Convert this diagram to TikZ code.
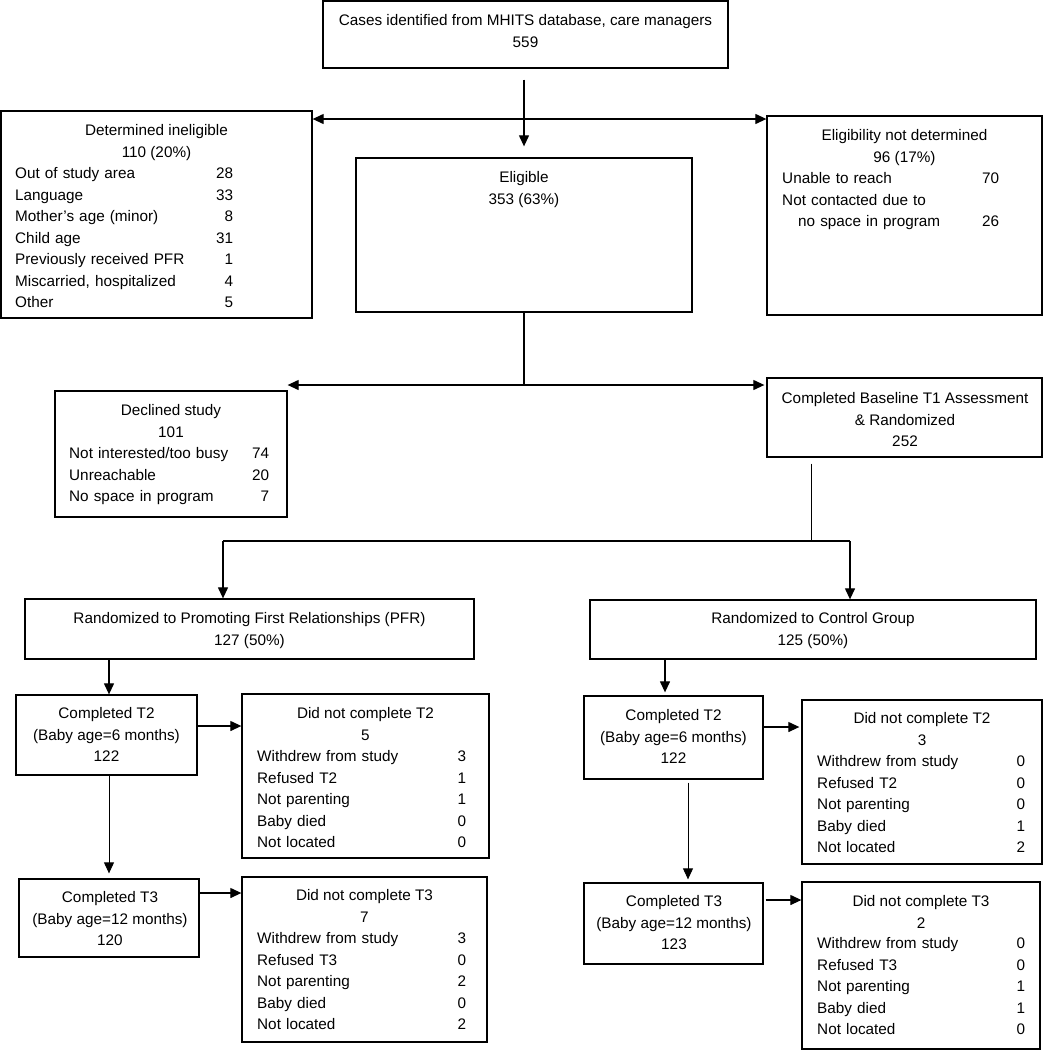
\documentclass[tikz,border=0pt]{standalone}
\usepackage{fontspec}
\setmainfont{Liberation Sans}
\usetikzlibrary{arrows.meta}
\newcommand\mystrut{\rule{0pt}{12pt}}
\begin{document}
\begin{tikzpicture}[x=1pt,y=-1pt,
  box/.style={draw, line width=1.3pt, inner sep=0pt},
  hdr/.style={inner sep=0pt, anchor=north, align=center, font=\fontsize{15.3pt}{21.5pt}\selectfont},
  tbl/.style={inner sep=0pt, anchor=north west, align=left, text width=#1, font=\fontsize{15.3pt}{21.5pt}\selectfont},
  conn/.style={line width=1.2pt},
  thin/.style={line width=0.9pt},
  arr/.style={line width=1.2pt, -{Triangle[length=11pt,width=10pt]}},
  darr/.style={line width=1.2pt, {Triangle[length=11pt,width=10pt]}-{Triangle[length=11pt,width=10pt]}}]
\useasboundingbox (0,0) rectangle (1046,1050);

% --- boxes ---
\node[box, minimum width=405pt, minimum height=67pt] (top) at (525.5,34.5) {};
\node[hdr] (topH) at (525.5,13.5) {\mystrut Cases identified from MHITS database, care managers\\559};

\node[box, minimum width=311pt, minimum height=207pt] (inel) at (156.5,214.5) {};
\node[hdr] (inelH) at (156.5,123.5) {\mystrut Determined ineligible\\110 (20\%)};
\node[tbl=218pt] (inelT) at (15,166.5) {\mystrut Out of study area\hfill 28\\
Language\hfill 33\\
Mother’s age (minor)\hfill 8\\
Child age\hfill 31\\
Previously received PFR\hfill 1\\
Miscarried, hospitalized\hfill 4\\
Other\hfill 5};

\node[box, minimum width=336pt, minimum height=154pt] (elig) at (524,235) {};
\node[hdr] (eligH) at (524,170.5) {\mystrut Eligible\\353 (63\%)};

\node[box, minimum width=275pt, minimum height=199pt] (nd) at (904.5,215.5) {};
\node[hdr] (ndH) at (904.5,128.5) {\mystrut Eligibility not determined\\96 (17\%)};
\node[tbl=217pt] (ndT) at (782,171.5) {\mystrut Unable to reach\hfill 70\\
Not contacted due to\\
\hspace*{16pt}no space in program\hfill 26};

\node[box, minimum width=232pt, minimum height=126pt] (decl) at (171,454) {};
\node[hdr] (declH) at (171,403.5) {\mystrut Declined study\\101};
\node[tbl=200pt] (declT) at (69,446.5) {\mystrut Not interested/too busy\hfill 74\\
Unreachable\hfill 20\\
No space in program\hfill 7};

\node[box, minimum width=275pt, minimum height=79pt] (base) at (904.5,417.5) {};
\node[hdr] (baseH) at (905,391.5) {\mystrut Completed Baseline T1 Assessment\\\& Randomized\\252};

\node[box, minimum width=449pt, minimum height=60pt] (pfr) at (249.5,629) {};
\node[hdr] (pfrH) at (249.5,611.5) {\mystrut Randomized to Promoting First Relationships (PFR)\\127 (50\%)};

\node[box, minimum width=446pt, minimum height=59pt] (ctrl) at (813,629.5) {};
\node[hdr] (ctrlH) at (813,611.5) {\mystrut Randomized to Control Group\\125 (50\%)};

% left arm
\node[box, minimum width=181pt, minimum height=80pt] (ct2l) at (106.5,735) {};
\node[hdr] (ct2lH) at (106.5,706.5) {\mystrut Completed T2\\(Baby age=6 months)\\122};
\node[box, minimum width=247pt, minimum height=164pt] (dn2l) at (365.5,776) {};
\node[hdr] (dn2lH) at (365.5,706.5) {\mystrut Did not complete T2\\5};
\node[tbl=209pt] (dn2lT) at (257,749.5) {\mystrut Withdrew from study\hfill 3\\
Refused T2\hfill 1\\
Not parenting\hfill 1\\
Baby died\hfill 0\\
Not located\hfill 0};

\node[box, minimum width=180pt, minimum height=78pt] (ct3l) at (109,918) {};
\node[hdr] (ct3lH) at (110,890.5) {\mystrut Completed T3\\(Baby age=12 months)\\120};
\node[box, minimum width=245pt, minimum height=165pt] (dn3l) at (364.5,959.5) {};
\node[hdr] (dn3lH) at (364.5,888.5) {\mystrut Did not complete T3\\7};
\node[tbl=209pt] (dn3lT) at (257,931.5) {\mystrut Withdrew from study\hfill 3\\
Refused T3\hfill 0\\
Not parenting\hfill 2\\
Baby died\hfill 0\\
Not located\hfill 2};

% right arm
\node[box, minimum width=179pt, minimum height=83pt] (ct2r) at (673.5,737.5) {};
\node[hdr] (ct2rH) at (673.5,708.5) {\mystrut Completed T2\\(Baby age=6 months)\\122};
\node[box, minimum width=240pt, minimum height=164pt] (dn2r) at (922,782) {};
\node[hdr] (dn2rH) at (922,711.5) {\mystrut Did not complete T2\\3};
\node[tbl=208pt] (dn2rT) at (817,754.5) {\mystrut Withdrew from study\hfill 0\\
Refused T2\hfill 0\\
Not parenting\hfill 0\\
Baby died\hfill 1\\
Not located\hfill 2};

\node[box, minimum width=179pt, minimum height=81pt] (ct3r) at (673.5,923.5) {};
\node[hdr] (ct3rH) at (674,894.5) {\mystrut Completed T3\\(Baby age=12 months)\\123};
\node[box, minimum width=238pt, minimum height=167pt] (dn3r) at (921,965.5) {};
\node[hdr] (dn3rH) at (921,894.5) {\mystrut Did not complete T3\\2};
\node[tbl=208pt] (dn3rT) at (817,936.5) {\mystrut Withdrew from study\hfill 0\\
Refused T3\hfill 0\\
Not parenting\hfill 1\\
Baby died\hfill 1\\
Not located\hfill 0};

% --- connectors ---
\draw[arr, shorten <=11pt, shorten >=11pt] (top.south -| elig.north) -- (elig.north);
\coordinate (h1) at (524,119);
\draw[darr] (h1 -| inel.east) -- (h1 -| nd.west);

\coordinate (h2) at (524,385);
\draw[conn] (elig.south) -- (h2);
\draw[darr] (h2 -| decl.east) -- ([xshift=-2pt]h2 -| base.west);

\coordinate (s1) at (811,541);
\coordinate (s2) at (223,541);
\coordinate (s3) at (850,541);
\draw[thin, shorten <=6pt] (s1 |- base.south) -- (s1);
\draw[conn] (s2) -- (s3);
\draw[arr] (s2) -- (s2 |- pfr.north);
\draw[arr] (s3) -- (s3 |- ctrl.north);

\draw[arr] ([xshift=2.5pt]ct2l.north |- pfr.south) -- ([xshift=2.5pt]ct2l.north);
\draw[arr] ([yshift=9pt]ct2l.east) -- ([yshift=9pt]ct2l.east -| dn2l.west);
\draw[thin, -{Triangle[length=11pt,width=10pt]}, shorten >=5pt] (ct3l.north |- ct2l.south) -- (ct3l.north);
\draw[arr] ([yshift=25pt]ct3l.east) -- ([yshift=25pt]ct3l.east -| dn3l.west);

\draw[arr, shorten >=3pt] ([xshift=-8.5pt]ct2r.north |- ctrl.south) -- ([xshift=-8.5pt]ct2r.north);
\draw[arr, shorten >=2pt] ([yshift=10.5pt]ct2r.east) -- ([yshift=10.5pt]ct2r.east -| dn2r.west);
\draw[thin, -{Triangle[length=11pt,width=10pt]}, shorten <=3pt, shorten >=3pt] ([xshift=14.5pt]ct2r.south) -- ([xshift=14.5pt]ct2r.south |- ct3r.north);
\draw[arr, shorten <=2pt] ([yshift=23.5pt]ct3r.east) -- ([yshift=23.5pt]ct3r.east -| dn3r.west);
\end{tikzpicture}
\end{document}
